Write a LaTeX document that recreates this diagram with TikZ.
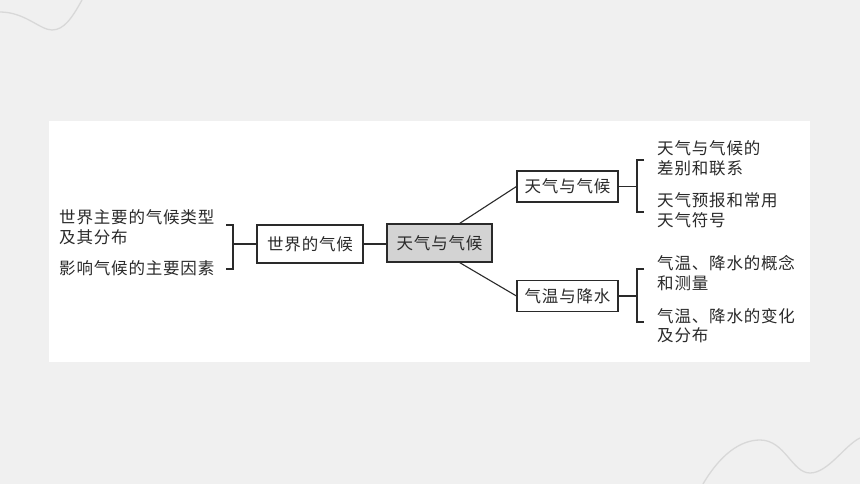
\documentclass[tikz,border=0pt]{standalone}
\usepackage{fontspec}
\setmainfont{Noto Sans CJK SC}[LetterSpace=5]
\definecolor{bgcol}{HTML}{F0F0F0}
\definecolor{curvecol}{HTML}{D8D8D8}
\definecolor{inkcol}{HTML}{2A2A2A}
\definecolor{hubfill}{HTML}{D3D3D3}
\begin{document}
\begin{tikzpicture}[x=1pt,y=-1pt,
  every node/.style={font=\fontsize{16.5}{19.5}\selectfont, text=inkcol},
  boxnode/.style={draw=inkcol, line width=1.1pt, fill=white, inner sep=0pt, minimum height=30pt},
  leaf/.style={anchor=west, align=left, inner sep=0pt},
  link/.style={draw=inkcol, line width=1.1pt},
  deco/.style={draw=curvecol, line width=1.3pt}
]
\useasboundingbox (0,0) rectangle (860,484);
\fill[bgcol] (0,0) rectangle (860,484);
\draw[deco] (0,12) .. controls (25,12) and (40,30) .. (52,30) .. controls (64,30) and (72,18) .. (82,0);
\draw[deco] (703,484) .. controls (720,455) and (740,440) .. (760,440) .. controls (785,440) and (792,473) .. (810,473) .. controls (828,473) and (845,445) .. (860,438);
\fill[white] (49,121) rectangle (810,362);

% central nodes
\node[boxnode, fill=hubfill, minimum width=105pt, minimum height=38pt] (hub) at (439.5,243) {天气与气候};
\node[boxnode, minimum width=106pt, minimum height=38pt] (world) at (310,244) {世界的气候};
\node[boxnode, minimum width=101pt, minimum height=31pt] (wc) at (567.5,186.5) {天气与气候};
\node[boxnode, minimum width=101pt, minimum height=31pt] (tp) at (567.5,296) {气温与降水};

% leaves left
\node[leaf] (l1) at (59,227) {世界主要的气候类型\\及其分布};
\node[leaf] (l2) at (59,268) {影响气候的主要因素};

% leaves right
\node[leaf] (r1) at (657,158.5) {天气与气候的\\差别和联系};
\node[leaf] (r2) at (657,210) {天气预报和常用\\天气符号};
\node[leaf] (r3) at (657,273) {气温、降水的概念\\和测量};
\node[leaf] (r4) at (657,325.5) {气温、降水的变化\\及分布};

% connectors
\draw[link] (world.east) -- (world.east -| hub.west);
\draw[link] (hub.north east) ++(-33,0) coordinate (hubtop) -- (wc.west);
\draw[link] (hub.south east) ++(-33,0) coordinate (hubbot) -- (tp.west);

% left bracket
\coordinate (lbj) at (233,244);
\draw[link] (226,225) coordinate (lt1) -- (233,225) coordinate (lbt) -- (233,269) coordinate (lbb) -- (226,269) coordinate (lt2);
\draw[link] (lbj) -- (world.west);

% right brackets
\coordinate (rbj1) at (637,186.5);
\draw[link] (wc.east) -- (rbj1);
\draw[link] (644,160) coordinate (rt1) -- (637,160) coordinate (rv1) -- (637,212) coordinate (rv2) -- (644,212) coordinate (rt2);
\coordinate (rbj2) at (637,296);
\draw[link] (tp.east) -- (rbj2);
\draw[link] (644,269) coordinate (rt3) -- (637,269) coordinate (rv3) -- (637,322) coordinate (rv4) -- (644,322) coordinate (rt4);
\end{tikzpicture}
\end{document}
